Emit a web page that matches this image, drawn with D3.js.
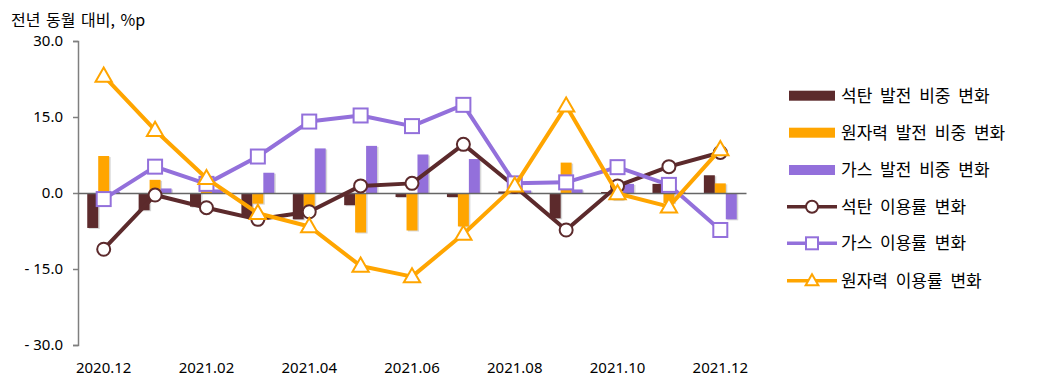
<!DOCTYPE html>
<html><head><meta charset="utf-8">
<script src="https://cdn.jsdelivr.net/npm/d3@7"></script>
<style>
body{margin:0;background:#fff;}
text{font-family:"Noto Sans","Noto Sans CJK KR",sans-serif;fill:#000;}
.kr{font-family:"Noto Sans CJK KR","Noto Sans",sans-serif;}
</style></head>
<body><svg id="c" width="1040" height="381"></svg>
<script>
const categories = ["2020.12","2021.01","2021.02","2021.03","2021.04","2021.05","2021.06","2021.07","2021.08","2021.09","2021.10","2021.11","2021.12"];
const xTickLabels = ["2020.12","2021.02","2021.04","2021.06","2021.08","2021.10","2021.12"];
const yTicks = [-30, -15, 0, 15, 30];
const coalShare    = [-6.9, -3.4, -2.7, -4.7, -5.2, -2.4, -0.8, -0.8, 0.3, -5.0, 0.2, 1.8, 3.5];
const nuclearShare = [7.3, 2.6, 1.8, -2.1, -2.7, -7.8, -7.4, -6.6, 0.3, 6.0, -1.4, -2.0, 1.9];
const gasShare     = [0.2, 0.9, 0.7, 4.0, 8.8, 9.3, 7.6, 6.7, 0.5, 0.7, 1.8, 0.2, -5.2];
const coalUtil     = [-11.1, -0.4, -2.9, -5.2, -3.7, 1.4, 1.9, 9.6, 1.3, -7.3, 1.4, 5.2, 8.0];
const gasUtil      = [-1.2, 5.2, 1.8, 7.2, 14.1, 15.3, 13.2, 17.4, 1.9, 2.1, 5.1, 1.6, -7.3];
const nuclearUtil  = [23.1, 12.4, 2.9, -4.0, -6.6, -14.4, -16.5, -8.1, 1.4, 17.2, -0.1, -2.7, 8.6];
const barNames  = ["석탄 발전 비중 변화", "원자력 발전 비중 변화", "가스 발전 비중 변화"];
const lineNames = ["석탄 이용률 변화", "가스 이용률 변화", "원자력 이용률 변화"];
const title = "전년 동월 대비, %p";

const COAL = "#5C2A2C", NUC = "#FFA500", GAS = "#9370DB";
const svg = d3.select("#c");
const x = d3.scaleBand().domain(categories).range([78, 746]).paddingInner(0.36).paddingOuter(0.18);
const xc = d => x(d) + x.bandwidth()/2;
const y = d3.scaleLinear().domain([-30, 30]).range([345, 41]);
const sub = d3.scaleBand().domain([0,1,2]).range([0, x.bandwidth()]);

// title
svg.append("text").attr("class","kr").attr("x", 11).attr("y", 26).attr("font-size", 16).attr("word-spacing","2px").text(title);

// y axis
const ya = svg.append("g").attr("transform","translate(78,0)")
  .call(d3.axisLeft(y).tickValues(yTicks).tickSize(5).tickPadding(10)
    .tickFormat(v => v < 0 ? "- " + Math.abs(v).toFixed(1) : v.toFixed(1)));
ya.select(".domain").attr("stroke","#7f7f7f").attr("stroke-width",1.5);
ya.selectAll(".tick line").attr("stroke","#7f7f7f").attr("stroke-width",1.5);
ya.selectAll(".tick text").attr("font-size",15).attr("font-family","Noto Sans, sans-serif").attr("fill","#000");

// bars
const barSeries = [coalShare, nuclearShare, gasShare];
const barColors = [COAL, NUC, GAS];
barSeries.forEach((vals, si) => {
  const g = svg.append("g");
  g.selectAll("rect.sh").data(vals).join("rect")
    .attr("x", (d,i) => x(categories[i]) + sub(si) + 1.5)
    .attr("y", d => Math.min(y(d), y(0)) + 1)
    .attr("width", sub.bandwidth())
    .attr("height", d => Math.abs(y(d) - y(0)))
    .attr("fill", "#bdbdbd").attr("opacity", 0.6);
  g.selectAll("rect.b").data(vals).join("rect")
    .attr("x", (d,i) => x(categories[i]) + sub(si))
    .attr("y", d => Math.min(y(d), y(0)))
    .attr("width", sub.bandwidth())
    .attr("height", d => Math.abs(y(d) - y(0)))
    .attr("fill", barColors[si]);
});

// zero axis line
const xa = svg.append("g").attr("transform", `translate(0,${y(0)})`)
  .call(d3.axisBottom(x).tickValues([]).tickSizeOuter(0));
xa.select(".domain").attr("stroke","#666").attr("stroke-width",1.5);

// x labels
const xl = svg.append("g").attr("transform","translate(0,373)")
  .call(d3.axisBottom(x).tickValues(xTickLabels).tickSize(0).tickPadding(0));
xl.select(".domain").remove();
xl.selectAll(".tick text").attr("font-size",15).attr("font-family","Noto Sans, sans-serif").attr("fill","#000").attr("dy",0);

// lines
const line = d3.line().x((d,i) => xc(categories[i])).y(d => y(d));
const lineSeries = [coalUtil, gasUtil, nuclearUtil];
const lineColors = [COAL, GAS, NUC];
const markers = ["circle","square","triangle"];
function drawMarker(g, type, color, cx, cy) {
  if (type === "circle") g.append("circle").attr("cx",cx).attr("cy",cy).attr("r",6.5).attr("fill","#fff").attr("stroke",color).attr("stroke-width",2);
  else if (type === "square") g.append("rect").attr("x",cx-7).attr("y",cy-7).attr("width",14).attr("height",14).attr("fill","#fff").attr("stroke",color).attr("stroke-width",2);
  else g.append("path").attr("d", d3.symbol().type(d3.symbolTriangle).size(115)()).attr("transform",`translate(${cx},${cy+1})`).attr("fill","#fff").attr("stroke",color).attr("stroke-width",2);
}
lineSeries.forEach((vals, si) => {
  const g = svg.append("g");
  g.append("path").datum(vals).attr("d", line).attr("fill","none").attr("stroke", lineColors[si]).attr("stroke-width",4).attr("stroke-linejoin","round");
  vals.forEach((v,i) => drawMarker(g, markers[si], lineColors[si], xc(categories[i]), y(v)));
});

// legend
const lg = svg.append("g");
const rowY = [95.7, 132.7, 170, 206.7, 243.3, 280.7];
barNames.forEach((n,i) => {
  lg.append("rect").attr("x",789).attr("y",rowY[i]-5).attr("width",46).attr("height",10).attr("fill",barColors[i]);
  lg.append("text").attr("class","kr").attr("x",841).attr("y",rowY[i]+6).attr("font-size",17).attr("word-spacing","4px").text(n);
});
lineNames.forEach((n,i) => {
  const yy = rowY[3+i];
  lg.append("line").attr("x1",787).attr("x2",837).attr("y1",yy).attr("y2",yy).attr("stroke",lineColors[i]).attr("stroke-width",3.5);
  const mg = lg.append("g");
  if (markers[i]==="circle") mg.append("circle").attr("cx",812).attr("cy",yy).attr("r",6).attr("fill","#fff").attr("stroke",lineColors[i]).attr("stroke-width",2);
  else if (markers[i]==="square") mg.append("rect").attr("x",806).attr("y",yy-6).attr("width",12).attr("height",12).attr("fill","#fff").attr("stroke",lineColors[i]).attr("stroke-width",2);
  else mg.append("path").attr("d", d3.symbol().type(d3.symbolTriangle).size(70)()).attr("transform",`translate(812,${yy+1})`).attr("fill","#fff").attr("stroke",lineColors[i]).attr("stroke-width",2);
  lg.append("text").attr("class","kr").attr("x",841).attr("y",yy+6).attr("font-size",17).attr("word-spacing","4px").text(n);
});
</script></body></html>
